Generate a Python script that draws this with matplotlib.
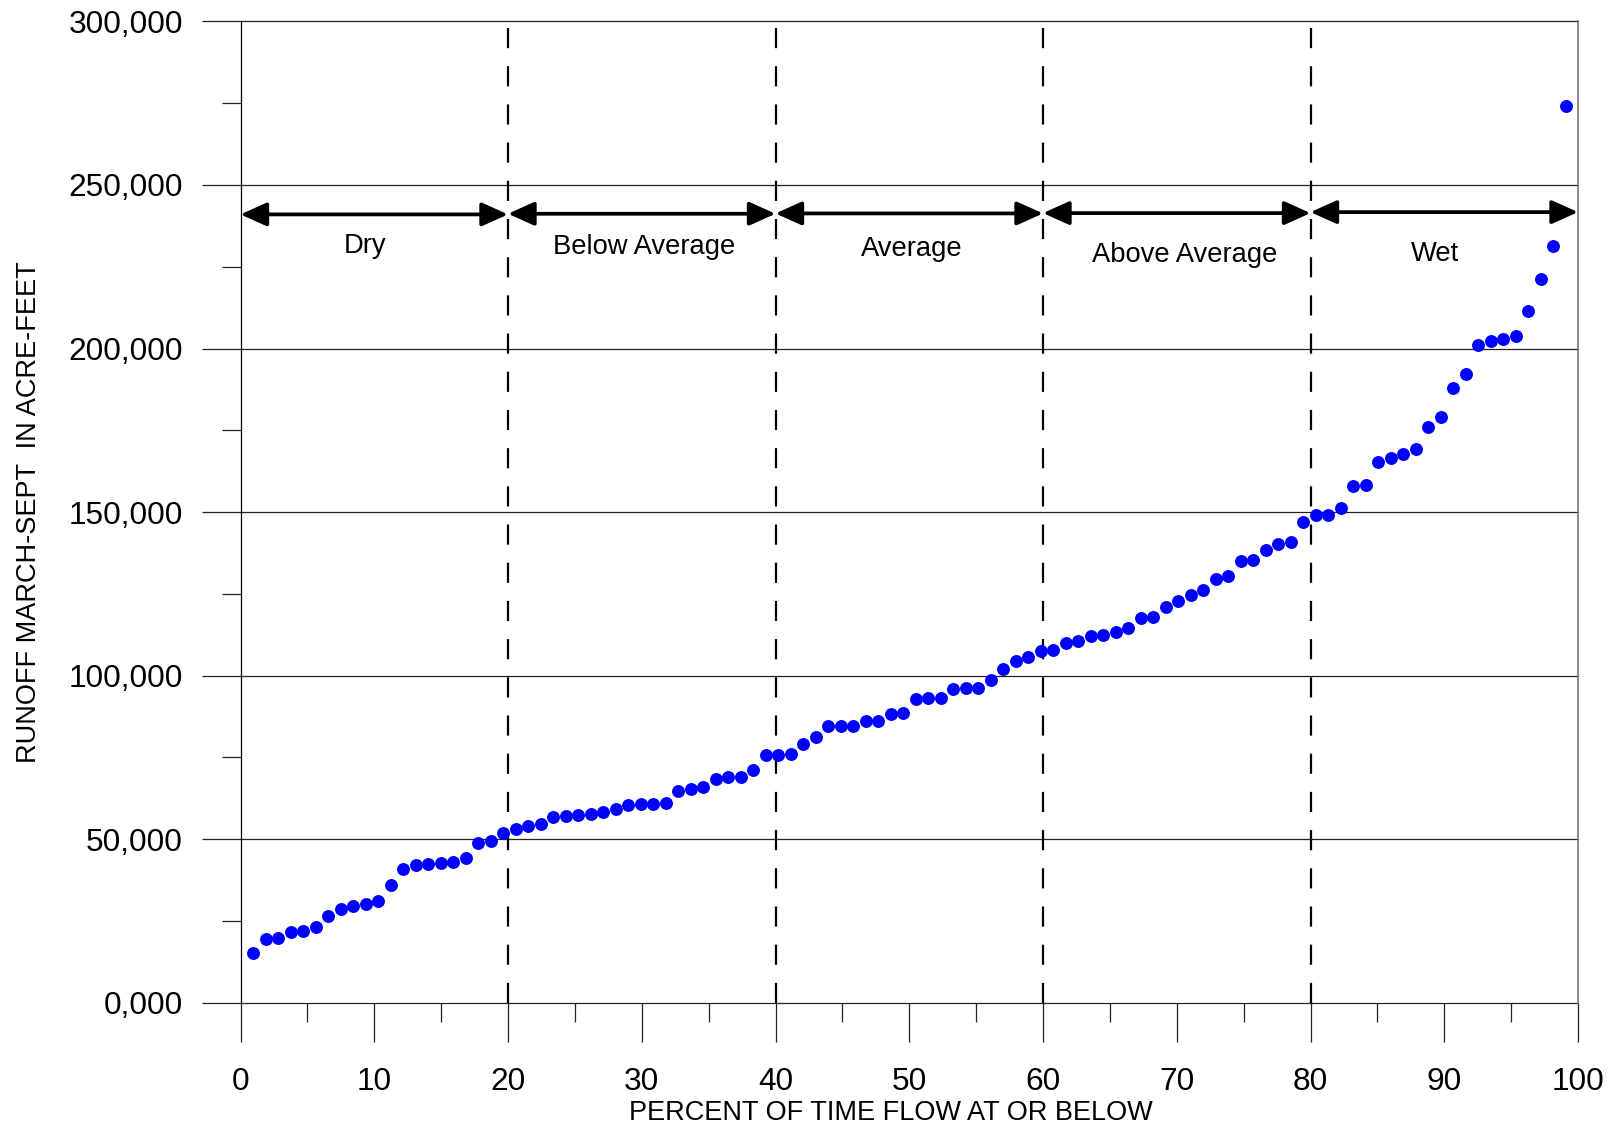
import matplotlib
matplotlib.use("Agg")
import matplotlib.pyplot as plt
from matplotlib.ticker import FixedLocator, FixedFormatter

# ---------------- data ----------------
runoff = [15300, 19400, 19900, 21600, 21900, 23200, 26400, 28600, 29600, 30300,
          31200, 36100, 40900, 42100, 42300, 42600, 42900, 44300, 48800, 49400,
          52000, 53100, 53900, 54800, 56800, 57100, 57500, 57700, 58200, 59100,
          60500, 60700, 60900, 60950, 64600, 65300, 66000, 68400, 68900, 69000,
          71300, 75800, 75900, 75950, 79000, 81100, 84500, 84600, 84700, 86000,
          86100, 88200, 88500, 93000, 93100, 93300, 96000, 96200, 96250, 98600,
          102100, 104400, 105800, 107400, 107900, 109900, 110700, 112100, 112300, 113400,
          114700, 117700, 117900, 121000, 122900, 124800, 126100, 129600, 130600, 135200,
          135300, 138500, 140300, 140900, 147000, 149100, 149200, 151400, 158000, 158400,
          165300, 166400, 167700, 169400, 175900, 179100, 187800, 192200, 201000, 202200,
          202800, 203700, 211400, 221300, 231300, 274100]
n = len(runoff)
# Weibull plotting position: rank / (n + 1)
percent = [100.0 * (k + 1) / (n + 1) for k in range(n)]

class_names = ["Dry", "Below Average", "Average", "Above Average", "Wet"]
class_bounds = [0, 20, 40, 60, 80, 100]
arrow_levels = [241000, 241200, 241300, 241400, 241700]
label_x = [9.3, 30.2, 50.2, 70.6, 89.3]
label_y = [231300, 231000, 230400, 228600, 229000]

y_ticks = [0, 50000, 100000, 150000, 200000, 250000, 300000]
y_tick_labels = ["0,000", "50,000", "100,000", "150,000", "200,000", "250,000", "300,000"]
y_minor = [25000, 75000, 125000, 175000, 225000, 275000]
x_ticks = [0, 10, 20, 30, 40, 50, 60, 70, 80, 90, 100]
x_tick_labels = [str(v) for v in x_ticks]
x_minor = [5, 15, 25, 35, 45, 55, 65, 75, 85, 95]

# ---------------- style ----------------
plt.rcParams["font.family"] = ["Liberation Sans", "DejaVu Sans"]
plt.rcParams["lines.scale_dashes"] = False

W, H = 1611, 1125
fig = plt.figure(figsize=(W / 100, H / 100), dpi=100)
left, right, top, bottom = 240.5, 1578, 21.4, 1002.8
ax = fig.add_axes([left / W, 1 - bottom / H, (right - left) / W, (bottom - top) / H])

ax.set_xlim(0, 100)
ax.set_ylim(0, 300000)

# grid lines (horizontal)
for yv in y_ticks:
    ax.axhline(yv, color="#222222", lw=0.9, zorder=1, clip_on=False)

# dashed class dividers
for xb in class_bounds[1:-1]:
    ax.axvline(xb, color="black", lw=1.6, linestyle=(0, (14.5, 13)), zorder=2)

# points
ax.plot(percent, runoff, "o", color="#0000FF", markersize=9.3,
        markeredgewidth=0, zorder=4)

# class arrows and labels
for i, name in enumerate(class_names):
    ax.annotate("", xy=(class_bounds[i + 1], arrow_levels[i]),
                xytext=(class_bounds[i], arrow_levels[i]),
                arrowprops=dict(arrowstyle="<|-|>,head_length=0.8,head_width=0.36",
                                mutation_scale=20, lw=2.7, color="black",
                                shrinkA=0, shrinkB=0),
                annotation_clip=False, zorder=5)
    ax.text(label_x[i], label_y[i], name, ha="center", va="center",
            fontsize=19.7, color="black", zorder=5)

# spines
ax.spines["top"].set_visible(False)
ax.spines["bottom"].set_visible(False)
ax.spines["left"].set_color("black")
ax.spines["left"].set_linewidth(0.9)
ax.spines["right"].set_color("#777777")
ax.spines["right"].set_linewidth(1.2)

# ticks
ax.xaxis.set_major_locator(FixedLocator(x_ticks))
ax.xaxis.set_major_formatter(FixedFormatter(x_tick_labels))
ax.xaxis.set_minor_locator(FixedLocator(x_minor))
ax.yaxis.set_major_locator(FixedLocator(y_ticks))
ax.yaxis.set_major_formatter(FixedFormatter(y_tick_labels))
ax.yaxis.set_minor_locator(FixedLocator(y_minor))
ax.tick_params(axis="both", which="major", direction="out", length=28,
               width=0.9, color="#222222", labelsize=22.8)
ax.tick_params(axis="x", which="major", pad=18.5)
ax.tick_params(axis="y", which="major", pad=13.5)
ax.tick_params(axis="both", which="minor", direction="out", length=13.7,
               width=0.9, color="#222222")

# axis labels
fig.text(891 / W, 1 - 1113 / H, "PERCENT OF TIME FLOW AT OR BELOW",
         ha="center", va="center", fontsize=19.5)
fig.text(29 / W, 1 - 512 / H, "RUNOFF MARCH-SEPT  IN ACRE-FEET",
         ha="center", va="center", rotation=90, fontsize=19.5)

fig.savefig("out.png", dpi=100, facecolor="white")
